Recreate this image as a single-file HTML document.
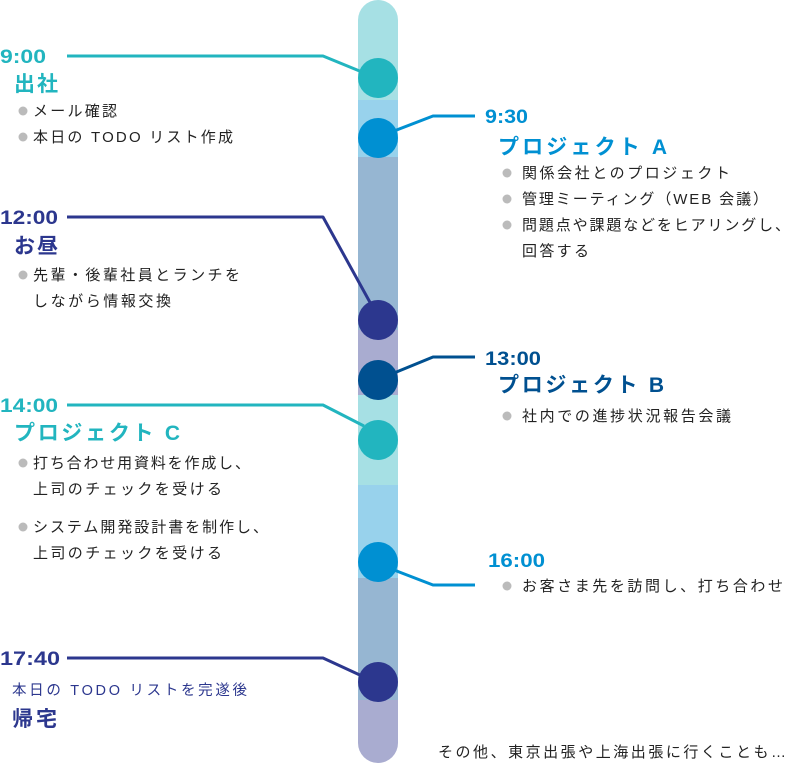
<!DOCTYPE html>
<html><head><meta charset="utf-8"><style>
html,body{margin:0;padding:0;background:#fff;}
svg{display:block;}
text{font-family:"Liberation Sans","Noto Sans CJK JP",sans-serif;}
.b{font-size:15px;fill:#222;}
.h{font-size:21px;font-weight:bold;}
.t{font-size:19px;font-weight:bold;}
</style></head><body>
<svg width="790" height="763" viewBox="0 0 790 763" xmlns="http://www.w3.org/2000/svg">
<defs><clipPath id="bar"><rect x="358" y="0" width="40" height="763" rx="20"/></clipPath></defs>
<g clip-path="url(#bar)">
<rect x="358" y="0" width="40" height="100" fill="#a6e0e4"/>
<rect x="358" y="100" width="40" height="57" fill="#98d2ec"/>
<rect x="358" y="157" width="40" height="173" fill="#96b6d2"/>
<rect x="358" y="330" width="40" height="65" fill="#a9acd0"/>
<rect x="358" y="395" width="40" height="90" fill="#a6e0e4"/>
<rect x="358" y="485" width="40" height="93" fill="#98d2ec"/>
<rect x="358" y="578" width="40" height="122" fill="#96b6d2"/>
<rect x="358" y="700" width="40" height="63" fill="#a9acd0"/>
</g>
<g fill="none" stroke-width="3" stroke-linejoin="round">
<polyline points="67,56 323,56 362,72" stroke="#22b5bf"/>
<polyline points="67,217 323,217 372,306" stroke="#2c378e"/>
<polyline points="67,405 323,405 364,426" stroke="#22b5bf"/>
<polyline points="67,658 323,658 362,676" stroke="#2c378e"/>
<polyline points="394,131 433,116 475,116" stroke="#0090d2"/>
<polyline points="394,373 433,357 475,357" stroke="#005090"/>
<polyline points="394,570 433,585 475,585" stroke="#0090d2"/>
</g>
<circle cx="378" cy="78" r="20" fill="#22b5bf"/>
<circle cx="378" cy="138" r="20" fill="#0090d2"/>
<circle cx="378" cy="320" r="20" fill="#2c378e"/>
<circle cx="378" cy="380" r="20" fill="#005090"/>
<circle cx="378" cy="440" r="20" fill="#22b5bf"/>
<circle cx="378" cy="562" r="20" fill="#0090d2"/>
<circle cx="378" cy="682" r="20" fill="#2c378e"/>

<g fill="#bbbbbb">
<circle cx="23" cy="111" r="4.5"/><circle cx="23" cy="137" r="4.5"/>
<circle cx="23" cy="275" r="4.5"/>
<circle cx="23" cy="463" r="4.5"/><circle cx="23" cy="527" r="4.5"/>
<circle cx="507" cy="173" r="4.5"/><circle cx="507" cy="199" r="4.5"/><circle cx="507" cy="225" r="4.5"/>
<circle cx="507" cy="416" r="4.5"/>
<circle cx="507" cy="586" r="4.5"/>
</g>

<text class="t" x="0" y="63" fill="#22b5bf" textLength="46" lengthAdjust="spacingAndGlyphs">9:00</text>
<text class="h" x="14" y="91" fill="#22b5bf" textLength="44">出社</text>
<text class="b" x="33" y="116" textLength="84">メール確認</text>
<text class="b" x="33" y="142" textLength="200">本日の TODO リスト作成</text>

<text class="t" x="0" y="224" fill="#2c378e" textLength="58" lengthAdjust="spacingAndGlyphs">12:00</text>
<text class="h" x="14" y="253" fill="#2c378e" textLength="44">お昼</text>
<text class="b" x="33" y="280" textLength="207">先輩・後輩社員とランチを</text>
<text class="b" x="33" y="306" textLength="138">しながら情報交換</text>

<text class="t" x="485" y="123" fill="#0090d2" textLength="43" lengthAdjust="spacingAndGlyphs">9:30</text>
<text class="h" x="498" y="154" fill="#0090d2" textLength="169">プロジェクト A</text>
<text class="b" x="522" y="178" textLength="208">関係会社とのプロジェクト</text>
<text class="b" x="522" y="204" textLength="246">管理ミーティング（WEB 会議）</text>
<text class="b" x="522" y="230" textLength="268">問題点や課題などをヒアリングし、</text>
<text class="b" x="522" y="256" textLength="67">回答する</text>

<text class="t" x="485" y="365" fill="#005090" textLength="56" lengthAdjust="spacingAndGlyphs">13:00</text>
<text class="h" x="498" y="392" fill="#005090" textLength="166">プロジェクト B</text>
<text class="b" x="522" y="421" textLength="209">社内での進捗状況報告会議</text>

<text class="t" x="0" y="412" fill="#22b5bf" textLength="58" lengthAdjust="spacingAndGlyphs">14:00</text>
<text class="h" x="14" y="440" fill="#22b5bf" textLength="166">プロジェクト C</text>
<text class="b" x="33" y="468" textLength="217">打ち合わせ用資料を作成し、</text>
<text class="b" x="33" y="494" textLength="189">上司のチェックを受ける</text>
<text class="b" x="33" y="532" textLength="235">システム開発設計書を制作し、</text>
<text class="b" x="33" y="558" textLength="189">上司のチェックを受ける</text>

<text class="t" x="488" y="567" fill="#0090d2" textLength="57" lengthAdjust="spacingAndGlyphs">16:00</text>
<text class="b" x="522" y="591" textLength="261">お客さま先を訪問し、打ち合わせ</text>

<text class="t" x="0" y="665" fill="#2c378e" textLength="60" lengthAdjust="spacingAndGlyphs">17:40</text>
<text x="12" y="695" fill="#2c378e" font-size="14.5" textLength="235">本日の TODO リストを完遂後</text>
<text class="h" x="12" y="726" fill="#2c378e" textLength="45">帰宅</text>

<text class="b" x="438" y="757" textLength="348">その他、東京出張や上海出張に行くことも…</text>
</svg>
</body></html>
